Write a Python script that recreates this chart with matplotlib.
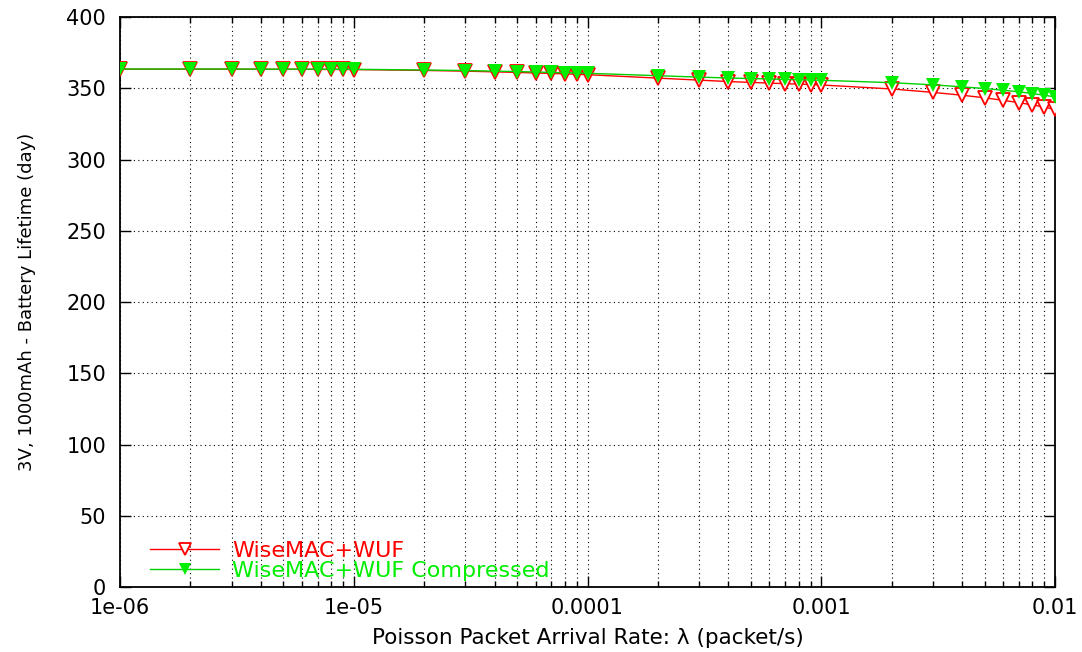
import numpy as np
import matplotlib
matplotlib.use("Agg")
import matplotlib.pyplot as plt
from matplotlib import font_manager
from matplotlib.ticker import LogLocator, FixedLocator, NullFormatter

plt.rcParams["font.family"] = ["DejaVu Sans"]

rates = [1e-6, 2e-6, 3e-6, 4e-6, 5e-6, 6e-6, 7e-6, 8e-6, 9e-6,
         1e-5, 2e-5, 3e-5, 4e-5, 5e-5, 6e-5, 7e-5, 8e-5, 9e-5,
         1e-4, 2e-4, 3e-4, 4e-4, 5e-4, 6e-4, 7e-4, 8e-4, 9e-4,
         1e-3, 2e-3, 3e-3, 4e-3, 5e-3, 6e-3, 7e-3, 8e-3, 9e-3, 1e-2]

wuf = [363.5, 363.5, 363.5, 363.4, 363.4, 363.4, 363.3, 363.3, 363.3,
       363.2, 362.6, 362.1, 361.6, 361.2, 360.8, 360.5, 360.2, 359.9,
       359.6, 357.2, 355.8, 354.8, 354.2, 353.7, 353.3, 353.0, 352.7,
       352.4, 349.6, 347.2, 345.2, 343.4, 341.6, 340.0, 338.4, 336.9, 335.2]

wuf_comp = [363.6, 363.6, 363.6, 363.5, 363.5, 363.5, 363.5, 363.4, 363.4,
            363.4, 362.9, 362.5, 362.1, 361.8, 361.5, 361.2, 361.0, 360.8,
            360.6, 358.9, 357.9, 357.3, 356.9, 356.6, 356.3, 356.1, 355.9,
            355.7, 354.0, 352.5, 351.1, 349.9, 348.7, 347.6, 346.4, 345.2, 344.0]

# narrow font for the y label if it is installed, plain DejaVu otherwise
try:
    font_manager.findfont("Liberation Sans Narrow", fallback_to_default=False)
    ylab_font, ylab_size = "Liberation Sans Narrow", 18
except Exception:
    ylab_font, ylab_size = "DejaVu Sans", 13

fig = plt.figure(figsize=(10.82, 6.52), dpi=100)
ax = fig.add_axes([0.111, 0.0997, 0.864, 0.874])

ax.plot(rates, wuf, color="#ff0000", linewidth=1, marker="v", markersize=10,
        markerfacecolor="white", markeredgecolor="#ff0000", markeredgewidth=1.3,
        label="WiseMAC+WUF", zorder=3)
ax.plot(rates, wuf_comp, color="#00d000", linewidth=1, marker="v", markersize=10,
        markerfacecolor="#00ee00", markeredgecolor="#00ee00", markeredgewidth=0,
        label="WiseMAC+WUF Compressed", zorder=4)

ax.set_xscale("log")
ax.set_xlim(1e-6, 1e-2)
ax.set_ylim(0, 400)
ax.set_xticks([1e-6, 1e-5, 1e-4, 1e-3, 1e-2])
ax.set_xticklabels(["1e-06", "1e-05", "0.0001", "0.001", "0.01"])
ax.xaxis.set_minor_locator(LogLocator(base=10, subs=np.arange(2, 10)))
ax.xaxis.set_minor_formatter(NullFormatter())
ax.yaxis.set_major_locator(FixedLocator(np.arange(0, 401, 50)))

ax.grid(True, which="both", axis="x", color="black", linestyle=(0, (1, 3)), linewidth=0.8)
ax.grid(True, which="major", axis="y", color="black", linestyle=(0, (1, 3)), linewidth=0.8)

ax.tick_params(which="both", direction="in", top=True, right=True, labelsize=15)
ax.tick_params(axis="x", pad=8)
ax.tick_params(axis="y", pad=10)
ax.tick_params(which="major", length=8, width=1)
ax.tick_params(which="minor", length=4, width=1)
for s in ax.spines.values():
    s.set_linewidth(1.3)

ax.set_xlabel("Poisson Packet Arrival Rate: \u03bb (packet/s)", fontsize=15.5, labelpad=7)
ax.set_ylabel("3V, 1000mAh - Battery Lifetime (day)", fontsize=ylab_size, family=ylab_font)
ax.yaxis.set_label_coords(-0.09, 0.5)

leg = ax.legend(loc="lower left", bbox_to_anchor=(0.018, -0.012), frameon=False,
                fontsize=16, handlelength=3.1, handletextpad=0.6, labelspacing=0.0,
                borderaxespad=0.2, markerscale=0.8)
for txt, col in zip(leg.get_texts(), ["#ff0000", "#00ee00"]):
    txt.set_color(col)

fig.savefig("out.png", dpi=100)
